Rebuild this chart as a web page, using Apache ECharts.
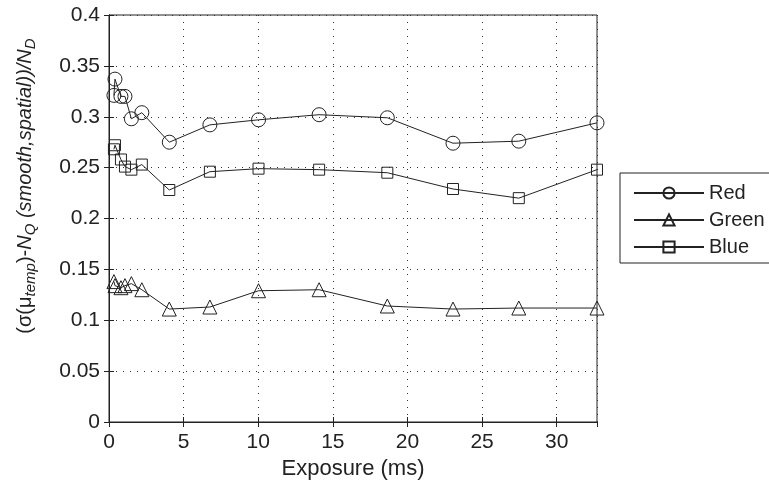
<!DOCTYPE html>
<html>
<head>
<meta charset="utf-8">
<script src="https://cdn.jsdelivr.net/npm/echarts@6/dist/echarts.min.js"></script>
<style>html,body{margin:0;padding:0;background:#fff}#c{width:769px;height:485px}</style>
</head>
<body>
<div id="c"></div>
<script>
const exposure = [0.33, 0.4, 0.8, 1.07, 1.5, 2.2, 4.04, 6.76, 10.02, 14.08, 18.65, 23.05, 27.46, 32.7];
const redVals   = [0.321, 0.337, 0.320, 0.320, 0.298, 0.304, 0.275, 0.292, 0.297, 0.302, 0.299, 0.274, 0.276, 0.294];
const greenVals = [0.138, 0.134, 0.132, 0.134, 0.136, 0.130, 0.111, 0.113, 0.129, 0.130, 0.114, 0.111, 0.112, 0.112];
const blueVals  = [0.268, 0.272, 0.258, 0.251, 0.248, 0.253, 0.228, 0.246, 0.249, 0.248, 0.245, 0.229, 0.220, 0.248];
const seriesNames = ['Red', 'Green', 'Blue'];
const xTitle = 'Exposure (ms)';

const FONT = 'Liberation Sans';
const INK = '#222';
const chart = echarts.init(document.getElementById('c'), null, {renderer: 'canvas'});

function pairs(vals) { return exposure.map((x, i) => [x, vals[i]]); }
function mk(name, vals, symbol, size) {
  return {
    name, type: 'line', data: pairs(vals), symbol, symbolSize: size,
    showSymbol: true, clip: false,
    lineStyle: {color: INK, width: 1},
    itemStyle: {color: 'rgba(255,255,255,0)', borderColor: INK, borderWidth: 1},
    emphasis: {disabled: true}, animation: false
  };
}
const gridLine = {show: true, lineStyle: {color: '#333', type: [1, 6], width: 1}};
const option = {
  animation: false,
  grid: {left: 109, right: 172, top: 15, bottom: 62, show: true, borderColor: INK, borderWidth: 1, backgroundColor: '#fff'},
  xAxis: [{
    type: 'value', min: 0, max: 32.7, interval: 5,
    name: xTitle, nameLocation: 'middle', nameGap: 36,
    nameTextStyle: {fontFamily: FONT, fontSize: 22, color: INK},
    axisLine: {show: true, lineStyle: {color: INK}},
    axisTick: {show: true, inside: true, length: 5, lineStyle: {color: INK}},
    axisLabel: {fontFamily: FONT, fontSize: 21, color: INK, margin: 10, showMaxLabel: false},
    splitLine: gridLine
  }, {
    type: 'value', position: 'top', min: 0, max: 32.7, interval: 5,
    axisLine: {show: true, lineStyle: {color: INK}},
    axisTick: {show: true, inside: true, length: 5, lineStyle: {color: INK}},
    axisLabel: {show: false}, splitLine: {show: false}
  }],
  yAxis: [{
    type: 'value', min: 0, max: 0.4, interval: 0.05,
    axisLine: {show: true, lineStyle: {color: INK}},
    axisTick: {show: true, inside: true, length: 5, lineStyle: {color: INK}},
    axisLabel: {fontFamily: FONT, fontSize: 21, color: INK, margin: 9},
    splitLine: gridLine
  }, {
    type: 'value', position: 'right', min: 0, max: 0.4, interval: 0.05,
    axisLine: {show: true, lineStyle: {color: INK}},
    axisTick: {show: true, inside: true, length: 5, lineStyle: {color: INK}},
    axisLabel: {show: false}, splitLine: {show: false}
  }],
  legend: {
    orient: 'vertical', left: 620, top: 173,
    backgroundColor: '#fff', borderColor: INK, borderWidth: 1, borderRadius: 0,
    padding: [10, 10, 6, 13], itemGap: 7, itemWidth: 70, itemHeight: 14,
    textStyle: {fontFamily: FONT, fontSize: 20, lineHeight: 20, color: INK},
    data: seriesNames
  },
  graphic: [{
    type: 'text', x: 25, y: 186, rotation: Math.PI / 2,
    style: {
      text: '(σ(μ{sub|temp})-{it|N}{sub|Q} {it|(smooth,spatial))/N}{sub|D}',
      fontFamily: FONT, fontSize: 20, fill: INK, align: 'center', verticalAlign: 'middle',
      rich: {
        it: {fontFamily: FONT, fontSize: 20, fontStyle: 'italic', fill: INK},
        sub: {fontFamily: FONT, fontSize: 15, fontStyle: 'italic', fill: INK, lineHeight: 15, padding: [12, 0, 0, 0]}
      }
    }
  }],
  series: [
    mk('Red', redVals, 'circle', 14),
    mk('Green', greenVals, 'triangle', 14),
    mk('Blue', blueVals, 'rect', 11)
  ]
};
chart.setOption(option);
</script>
</body>
</html>
